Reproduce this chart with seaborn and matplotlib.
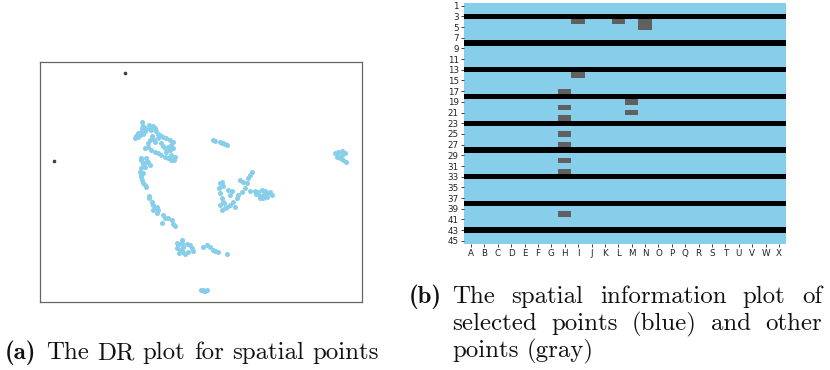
import numpy as np
import pandas as pd
import matplotlib
matplotlib.use("Agg")
import matplotlib.pyplot as plt
from matplotlib.colors import ListedColormap
import seaborn as sns

# ---- (a) DR embedding: selected spatial points ----
dr_x = [102.0, 103.0, 104.7, 102.0, 106.3, 96.3, 98.0, 95.3, 99.7, 100.7, 103.0,
        108.7, 111.3, 113.0, 114.7, 116.3, 111.3, 109.7, 119.7, 123.0, 126.3, 129.7,
        133.0, 131.3, 128.0, 124.7, 129.7, 133.0, 121.3, 123.0, 104.7, 108.0, 111.3,
        114.7, 118.0, 121.3, 124.7, 128.0, 131.3, 134.0, 101.3, 103.0, 106.3, 109.7,
        104.7, 101.3, 99.7, 103.0, 100.7, 102.0, 103.0, 104.7, 106.3,
        110.0, 115.0, 118.0, 112.0, 108.0, 101.3, 106.3, 108.0,
        97.5, 105.0, 117.5, 126.0, 131.0, 135.0, 113.0, 102.5, 101.0,
        108.5, 109.3, 111.7, 113.3, 115.0, 112.7, 116.7, 118.3, 117.0, 123.3, 125.0,
        128.3, 131.7, 121.7, 133.3, 135.0,
        141.7, 138.3, 136.7, 140.0, 143.3, 148.3, 151.7, 150.0, 146.7, 143.3, 153.3,
        141.7, 139.0, 145.0, 137.0,
        163.3, 166.7, 170.0, 173.3, 175.5, 178.3, 186.7,
        180.0, 181.7, 179.3, 180.0, 181.7, 182.7, 180.0, 181.7, 185.0, 187.3, 190.0,
        188.3, 191.7, 190.0, 195.0, 193.3, 196.7, 198.3, 201.7, 205.0, 206.7, 208.3,
        211.7, 200.0, 203.3, 210.0, 215.0, 218.3, 221.7, 225.0, 228.3, 226.7, 223.3,
        220.0, 224.0, 220.0, 210.0, 183.0, 184.0, 230.0, 232.0, 216.0, 227.0,
        173.3, 175.0, 180.0, 183.3, 185.0, 181.7, 186.7,
        295.0, 298.3, 301.7, 305.0, 296.7, 300.0, 303.3, 306.0, 301.7, 297.3,
        161.0, 163.0, 165.0, 167.0, 164.0]
dr_y = [180.3, 176.3, 174.3, 173.7, 173.0, 166.3, 168.7, 163.7, 167.0, 170.3, 167.7,
        177.0, 175.3, 176.3, 173.7, 171.0, 172.0, 173.0, 167.0, 165.3, 163.7, 162.0,
        160.3, 157.0, 155.3, 153.7, 152.0, 153.7, 158.7, 156.3, 153.7, 155.3, 152.0,
        150.3, 148.7, 147.0, 145.3, 143.7, 142.0, 142.0, 142.0, 138.7, 140.3, 137.0,
        135.3, 133.7, 130.3, 128.7, 125.3, 122.0, 119.3, 117.0, 115.3,
        162.0, 160.0, 164.0, 166.0, 158.7, 143.7, 143.7, 140.3,
        165.0, 171.0, 168.5, 150.0, 147.5, 145.5, 163.0, 136.5, 127.0,
        106.0, 103.7, 100.3, 97.0, 93.7, 92.0, 95.3, 92.0, 89.5, 87.0, 83.7,
        83.7, 82.0, 78.7, 77.7, 76.0,
        62.0, 57.0, 53.7, 52.0, 49.7, 50.3, 53.7, 57.0, 57.7, 55.3, 51.0,
        58.7, 49.0, 48.0, 59.0,
        55.3, 57.0, 55.3, 52.0, 51.0, 49.7, 47.7,
        118.7, 120.3, 113.7, 108.7, 103.7, 100.3, 97.0, 92.0, 93.7, 95.3, 97.0,
        112.0, 111.0, 107.0, 95.3, 100.3, 103.7, 107.0, 110.3, 113.7, 118.7, 123.7,
        129.7, 122.0, 120.3, 111.0, 111.0, 110.3, 112.0, 111.0, 108.7, 105.3, 103.7,
        106.3, 107.7, 103.7, 127.0, 116.0, 99.0, 110.0, 107.0, 108.0, 109.5,
        162.0, 161.3, 160.3, 159.3, 158.0, 158.7, 157.3,
        148.7, 150.3, 151.3, 148.7, 145.3, 143.7, 142.0, 140.3, 147.0, 148.0,
        12.5, 12.0, 11.5, 12.0, 11.0]

# ---- (a) DR embedding: other points ----
other_x = [85.0, 14.3]
other_y = [228.7, 141.0]

# ---- (b) spatial grid ----
col_labels = list("ABCDEFGHIJKLMNOPQRSTUVWX")
n_rows = 45
row_tick_labels = [str(r) for r in range(1, n_rows + 1, 2)]
boundary_rows = [3, 8, 13, 18, 23, 28, 33, 38, 43]
other_cols = ["I", "L", "N", "N", "I", "H", "M", "H", "M", "H", "H", "H", "H", "H", "H"]
other_rows = [4, 4, 4, 5, 14, 17, 19, 20, 21, 22, 25, 27, 30, 32, 40]

SEL = "#87CEEB"
OTH = "#606060"
W, H = 830, 370
CAP_FS = 17.9

fig = plt.figure(figsize=(W / 100, H / 100), dpi=100)

# DR scatter
ax1 = fig.add_axes([40 / W, 1 - 302 / H, 322 / W, 240 / H])
sel_df = pd.DataFrame({"x": dr_x, "y": dr_y})
oth_df = pd.DataFrame({"x": other_x, "y": other_y})
sns.scatterplot(data=sel_df, x="x", y="y", color=SEL, s=13, linewidth=0, ax=ax1)
sns.scatterplot(data=oth_df, x="x", y="y", color="#404040", s=7, linewidth=0, ax=ax1)
ax1.set_xlim(0, 322)
ax1.set_ylim(0, 240)
ax1.set_xticks([])
ax1.set_yticks([])
ax1.set_xlabel("")
ax1.set_ylabel("")
for sp in ax1.spines.values():
    sp.set_color("#666666")
    sp.set_linewidth(0.9)

# Spatial heatmap
grid = np.zeros((n_rows, len(col_labels)))
for r in boundary_rows:
    grid[r - 1, :] = 2
for c, r in zip(other_cols, other_rows):
    grid[r - 1, col_labels.index(c)] = 1

ax2 = fig.add_axes([464.3 / W, 1 - 243.5 / H, 321.4 / W, 240.5 / H])
sns.heatmap(grid, cmap=ListedColormap([SEL, OTH, "black"]), vmin=-0.5, vmax=2.5,
            cbar=False, ax=ax2, xticklabels=col_labels, yticklabels=False)
ax2.set_yticks([int(t) - 0.5 for t in row_tick_labels])
ax2.set_yticklabels(row_tick_labels, rotation=0)
ax2.set_xticks(np.arange(len(col_labels)) + 0.5)
ax2.set_xticklabels(col_labels, rotation=0)
ax2.tick_params(axis="both", labelsize=6.3, length=2.5, width=0.6, pad=1.5, colors="#222222")

# Captions
renderer = fig.canvas.get_renderer()


def caption_line(words, x0, base_y, x1=None, family="cmr10"):
    arts = [fig.text(0, 1 - base_y / H, w, family=family, fontsize=CAP_FS,
                     va="baseline", ha="left", color="#111111") for w in words]
    widths = [a.get_window_extent(renderer).width for a in arts]
    if x1 is not None and len(words) > 1:
        gap = (x1 - x0 - sum(widths)) / (len(words) - 1)
    else:
        gap = CAP_FS * 100 / 72 * 0.333
    x = x0
    for a, w in zip(arts, widths):
        a.set_x(x / W)
        x += w + gap


caption_line(["(a)"], 5, 359, family="cmb10")
caption_line("The DR plot for spatial points".split(), 46, 359)
caption_line(["(b)"], 409, 303, family="cmb10")
caption_line("The spatial information plot of".split(), 452, 303, x1=822)
caption_line("selected points (blue) and other".split(), 452, 330, x1=822)
caption_line("points (gray)".split(), 452, 357)

fig.savefig("out.png", dpi=100)
